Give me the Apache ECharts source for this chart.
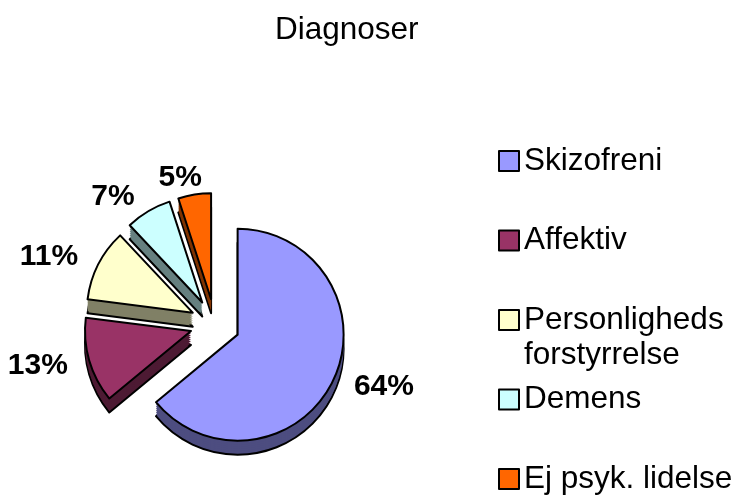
<!DOCTYPE html>
<html>
<head>
<meta charset="utf-8">
<script src="https://cdn.jsdelivr.net/npm/echarts@6/dist/echarts.min.js"></script>
<style>
  html, body { margin: 0; padding: 0; background: #fff; }
  #chart { width: 737px; height: 495px; }
</style>
</head>
<body>
<div id="chart"></div>
<script>
const chartTitle = 'Diagnoser'
const categories = ['Skizofreni', 'Affektiv', 'Personligheds forstyrrelse', 'Demens', 'Ej psyk. lidelse']
const legendLabels = ['Skizofreni', 'Affektiv', 'Personligheds\nforstyrrelse', 'Demens', 'Ej psyk. lidelse']
const shares = [64, 13, 11, 7, 5]

const topColors = ['#9999ff', '#993366', '#ffffcc', '#ccffff', '#ff6600']
const sideColors = ['#4d4d80', '#4d1a33', '#808066', '#668080', '#803300']

const font = "'Liberation Sans', Arial, sans-serif"
const pieX = 215
const pieY = 324
const pieR = 106
const depth = 14

const chart = echarts.init(document.getElementById('chart'))

function pieBase(offsetY) {
  return {
    type: 'pie',
    center: [pieX, pieY + offsetY],
    radius: pieR,
    startAngle: 90,
    clockwise: true,
    selectedMode: 'multiple',
    selectedOffset: 25,
    avoidLabelOverlap: false,
    animation: false,
    emphasis: { disabled: true },
    select: { itemStyle: {} }
  }
}

// top face first in the list so the legend takes its colours, drawn above by z
const series = [
  Object.assign(pieBase(0), {
    name: 'top',
    z: 3,
    itemStyle: { borderColor: '#000', borderWidth: 2 },
    label: {
      show: true,
      position: 'outside',
      formatter: p => p.value + '%',
      fontSize: 30,
      fontWeight: 'bold',
      fontFamily: font,
      color: '#000'
    },
    labelLine: { show: false, length: 17, length2: 0 },
    labelLayout: { hideOverlap: false },
    data: categories.map((name, i) => ({
      name, value: shares[i], selected: true,
      itemStyle: { color: topColors[i] },
      // the smallest slice's label sits above the slice rather than beside it
      label: i === categories.length - 1 ? { distanceToLabelLine: -10 } : {}
    }))
  })
]

// side walls: the same slices repeated downwards in darker colours
for (let d = depth; d > 0; d -= 2) {
  series.push(Object.assign(pieBase(d), {
    name: 'side' + d,
    z: d === depth ? 1 : 2,
    itemStyle: d === depth ? { borderColor: '#000', borderWidth: 2 } : { borderWidth: 0 },
    label: { show: false },
    labelLine: { show: false },
    data: categories.map((name, i) => ({
      name, value: shares[i], selected: true,
      itemStyle: { color: sideColors[i] }
    }))
  }))
}

const lineH = 35
const legend = categories.map((name, i) => {
  const multi = legendLabels[i].indexOf('\n') >= 0
  const lines = multi ? 3 : 1
  return {
    data: [name],
    orient: 'vertical',
    left: 498,
    top: 161 + i * 79.5 - lines * lineH / 2,
    padding: 0,
    icon: 'rect',
    itemWidth: 20,
    itemHeight: 20,
    itemGap: 0,
    selectedMode: false,
    itemStyle: { borderColor: '#000', borderWidth: 2 },
    formatter: () => (multi ? '\n' : '') + legendLabels[i],
    textStyle: { fontSize: 31.5, lineHeight: lineH, color: '#000', fontFamily: font }
  }
})

chart.setOption({
  backgroundColor: '#fff',
  animation: false,
  title: {
    text: chartTitle,
    left: 270,
    top: 9,
    textStyle: { fontSize: 31.5, fontWeight: 'normal', color: '#000', fontFamily: font }
  },
  legend,
  series
})
</script>
</body>
</html>
